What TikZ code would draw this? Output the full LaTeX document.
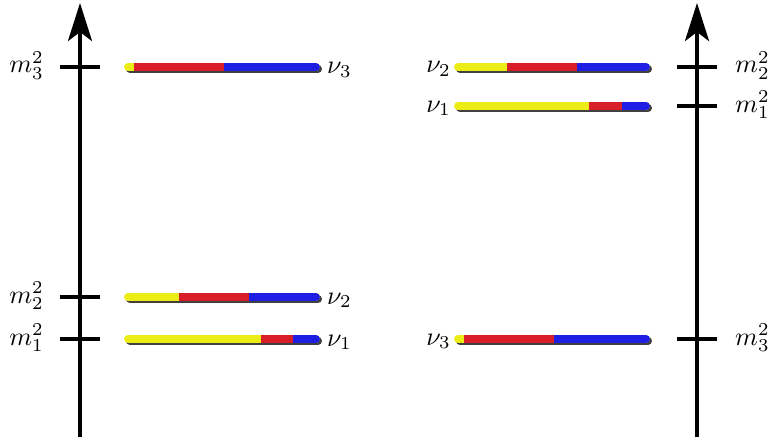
\documentclass[tikz,border=0pt]{standalone}
\usepackage{graphicx}
\usetikzlibrary{arrows.meta}
\definecolor{byel}{RGB}{236,236,22}
\definecolor{bred}{RGB}{216,30,40}
\definecolor{bblu}{RGB}{30,30,228}
\tikzset{
  axis/.style={line width=4pt,-{Stealth[length=38pt,width=24pt,inset=9pt]}},
  tick/.style={line width=4pt},
  shadow/.style={line width=8pt,line cap=round,black!75},
  seg/.style={line width=8pt},
  lab/.style={inner sep=0pt}
}
\newcommand\lablarge[1]{\scalebox{2.6}{$#1$}}
% #1 y, #2 x start, #3 yellow end, #4 red end, #5 x end
\newcommand\mixbar[5]{%
  \draw[shadow] (#2+2,#1+2) -- (#5+2,#1+2);
  \draw[seg,byel,line cap=round] (#2,#1) -- (#5,#1);
  \draw[seg,bblu,line cap=round] (#4+6,#1) -- (#5,#1);
  \draw[seg,bred] (#3,#1) -- (#4,#1);
  \draw[seg,bblu] (#4,#1) -- (#5-3,#1);
}
\begin{document}
\begin{tikzpicture}[x=1pt,y=-1pt]
\useasboundingbox (0,0) rectangle (784,444);
% left axis
\coordinate (L0) at (80,437);
\coordinate (L1) at (80,3);
\draw[axis] (L0) -- (L1);
\foreach \y/\n in {67/3,297/2,339/1}{
  \draw[tick] (60,\y) -- (100,\y);
  \node[lab,anchor=base east] (lm\n) at (44,\y+6) {\lablarge{m_{\n}^2}};
}
\mixbar{67}{128}{134}{224}{316}
\mixbar{297}{128}{179}{249}{316}
\mixbar{339}{128}{261}{293}{316}
\node[lab,anchor=base west] (ln3) at (327,74) {\lablarge{\nu_3}};
\node[lab,anchor=base west] (ln2) at (327,304) {\lablarge{\nu_2}};
\node[lab,anchor=base west] (ln1) at (327,346) {\lablarge{\nu_1}};
% right axis
\coordinate (R0) at (697,437);
\coordinate (R1) at (697,3);
\draw[axis] (R0) -- (R1);
\foreach \y/\n in {67/2,106/1,339/3}{
  \draw[tick] (677,\y) -- (717,\y);
  \node[lab,anchor=base west] (rm\n) at (735,\y+6) {\lablarge{m_{\n}^2}};
}
\mixbar{67}{458}{507}{577}{646}
\mixbar{106}{458}{589}{622}{646}
\mixbar{339}{458}{464}{554}{646}
\node[lab,anchor=base east] (rn2) at (451,73) {\lablarge{\nu_2}};
\node[lab,anchor=base east] (rn1) at (451,112) {\lablarge{\nu_1}};
\node[lab,anchor=base east] (rn3) at (451,345) {\lablarge{\nu_3}};
\end{tikzpicture}
\end{document}
